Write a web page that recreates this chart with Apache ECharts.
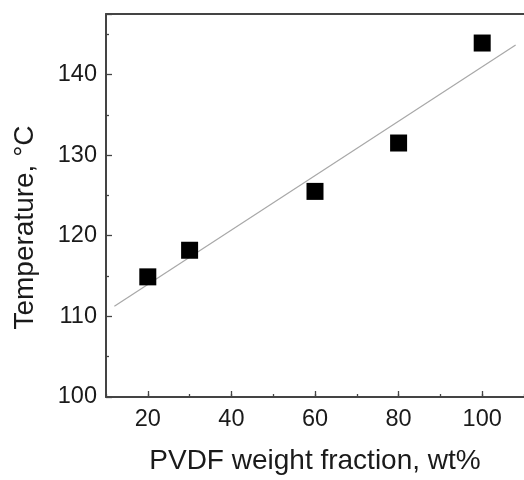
<!DOCTYPE html>
<html>
<head>
<meta charset="utf-8">
<script src="https://cdn.jsdelivr.net/npm/echarts@6/dist/echarts.min.js"></script>
<style>
html,body{margin:0;padding:0;background:#fff;}
#chart{width:524px;height:480px;}
</style>
</head>
<body>
<div id="chart"></div>
<script>
var pvdfFraction = [20, 30, 60, 80, 100];
var temperature = [114.9, 118.2, 125.5, 131.5, 143.9];
var fitX = [12, 108];
var fitY = [111.25, 143.65];
var xTickLabels = [20, 40, 60, 80, 100];
var yTickLabels = [100, 110, 120, 130, 140];

var chart = echarts.init(document.getElementById('chart'), null, {renderer: 'canvas'});
var font = 'Liberation Sans, Arial, sans-serif';
var axisColor = '#444';
var textColor = '#1a1a1a';

chart.setOption({
  backgroundColor: '#fff',
  animation: false,
  grid: {left: 106, top: 14, width: 420, height: 386, show: false},
  xAxis: [{
    type: 'value', min: 10, max: 110, interval: 10,
    name: 'PVDF weight fraction, wt%', nameLocation: 'middle', nameGap: 50,
    nameTextStyle: {fontFamily: font, fontSize: 28, color: textColor},
    axisLine: {show: true, lineStyle: {color: axisColor, width: 2}},
    axisTick: {show: true, inside: true, length: 3, lineStyle: {color: axisColor, width: 1.3}},
    axisLabel: {customValues: xTickLabels, fontFamily: font, fontSize: 23.5, color: textColor, margin: 11},
    splitLine: {show: false}
  }, {
    type: 'value', min: 10, max: 110, position: 'bottom',
    axisLine: {show: false},
    axisTick: {show: true, inside: true, length: 6, customValues: xTickLabels, lineStyle: {color: axisColor, width: 1.3}},
    axisLabel: {show: false},
    splitLine: {show: false}
  }, {
    type: 'value', min: 10, max: 110, position: 'top',
    axisLine: {show: true, lineStyle: {color: axisColor, width: 2}},
    axisTick: {show: false},
    axisLabel: {show: false},
    splitLine: {show: false}
  }],
  yAxis: {
    type: 'value', min: 100, max: 147.5, interval: 10,
    name: 'Temperature, \u00B0C', nameLocation: 'middle', nameGap: 67,
    nameTextStyle: {fontFamily: font, fontSize: 28, color: textColor, padding: [0, 44, 0, 0]},
    axisLine: {show: true, lineStyle: {color: axisColor, width: 2}},
    axisTick: {show: true, inside: true, length: 6, lineStyle: {color: axisColor, width: 1.3}},
    minorTick: {show: true, splitNumber: 2, length: 3, lineStyle: {color: axisColor, width: 1.3}},
    axisLabel: {customValues: yTickLabels, fontFamily: font, fontSize: 23.5, color: textColor, margin: 9},
    splitLine: {show: false}
  },
  series: [{
    type: 'line',
    data: fitX.map(function (x, i) { return [x, fitY[i]]; }),
    showSymbol: false, symbol: 'none',
    lineStyle: {color: '#a8a8a8', width: 1.2},
    silent: true, z: 1
  }, {
    type: 'scatter',
    data: pvdfFraction.map(function (x, i) { return [x, temperature[i]]; }),
    symbol: 'rect', symbolSize: 17,
    itemStyle: {color: '#000', opacity: 1},
    z: 2
  }]
});
</script>
</body>
</html>
